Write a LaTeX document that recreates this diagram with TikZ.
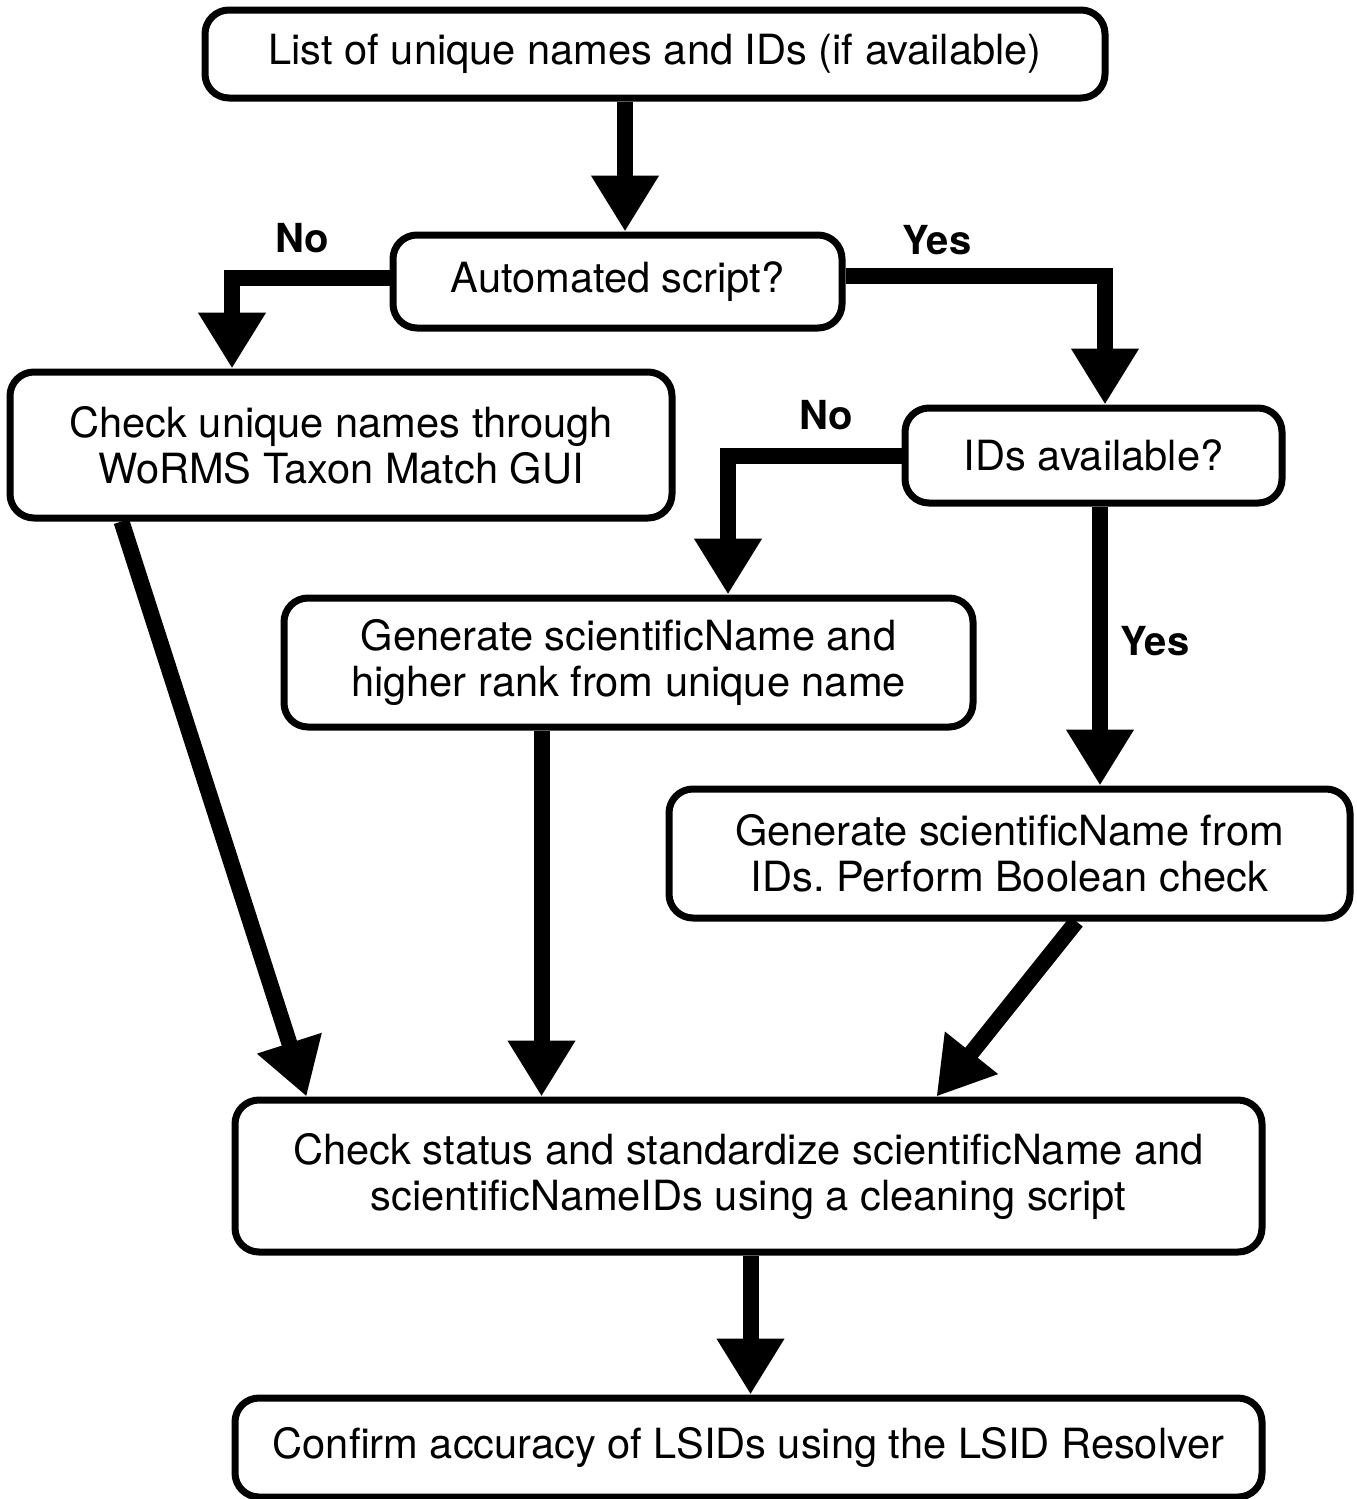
\documentclass[tikz,border=0pt]{standalone}
\usepackage{fontspec}
\setmainfont{TeX Gyre Heros}
\usetikzlibrary{arrows.meta,calc,positioning}
\frenchspacing

\tikzset{
    box/.style = {draw, line width=3.5pt, rounded corners=12pt, align=center,
                  inner sep=0pt, font=\fontsize{20.8}{23}\selectfont},
    flow/.style = {line width=8pt, -{Triangle[width=32pt, length=28pt]}},
    lab/.style = {font=\fontsize{20}{23}\selectfont\bfseries}
}

\begin{document}
\begin{tikzpicture}[x = 0.5pt, y = -0.5pt]
    \useasboundingbox (0,0) rectangle (1356,1499);
    % boxes
    \node[box, minimum width=450pt, minimum height=44pt] (list) at (655,54)
        {List of unique names and IDs (if available)};
    \node[box, minimum width=224.5pt, minimum height=46.5pt] (auto) at (617.5,281.5)
        {Automated script?};
    \node[box, minimum width=331pt, minimum height=73pt] (check) at (341,445)
        {Check unique names through\\WoRMS Taxon Match GUI};
    \node[box, minimum width=188.5pt, minimum height=47.5pt] (ids) at (1093.5,455.5)
        {IDs available?};
    \node[box, minimum width=344.5pt, minimum height=64.5pt] (genrank) at (628.5,662.5)
        {Generate scientificName and\\higher rank from unique name};
    \node[box, minimum width=340.5pt, minimum height=64.5pt] (genids) at (1009.5,853.5)
        {Generate scientificName from\\IDs. Perform Boolean check};
    \node[box, minimum width=513.5pt, minimum height=76pt] (status) at (748.5,1176)
        {Check status and standardize scientificName and\\scientificNameIDs using a cleaning script};
    \node[box, minimum width=513.5pt, minimum height=49.5pt] (confirm) at (748.5,1447.5)
        {Confirm accuracy of LSIDs using the LSID Resolver};

    % branch columns
    \coordinate (topcol) at (625,0);
    \coordinate (nocol) at (232,0);
    \coordinate (yescol) at (1105,0);
    \coordinate (nocolb) at (728,0);
    \coordinate (yescolb) at (1100,0);

    % connectors
    \draw[flow] (list.south -| topcol) -- (auto.north -| topcol);
    \draw[flow] ([yshift=2pt]auto.west) -| (check.north -| nocol);
    \draw[flow] ([yshift=3pt]auto.east) -| (ids.north -| yescol);
    \draw[flow] (ids.west) -| (genrank.north -| nocolb);
    \draw[flow] (ids.south -| yescolb) -- (genids.north -| yescolb);
    \draw[flow] ($(check.south west)+(115,0)$) -- ($(status.north west)+(75,0)$);
    \draw[flow] ($(genrank.south west)+(261,0)$) -- ($(status.north west)+(310,0)$);
    \draw[flow] ($(genids.south west)+(411,0)$) -- ($(status.north west)+(705,0)$);
    \draw[flow] ([xshift=1pt]status.south) -- ([xshift=1pt]confirm.north);

    % branch labels
    \node[lab] (no1) at (302,238) {No};
    \node[lab] (yes1) at (937,240) {Yes};
    \node[lab] (no2) at (826,415) {No};
    \node[lab] (yes2) at (1155,641) {Yes};
\end{tikzpicture}
\end{document}
